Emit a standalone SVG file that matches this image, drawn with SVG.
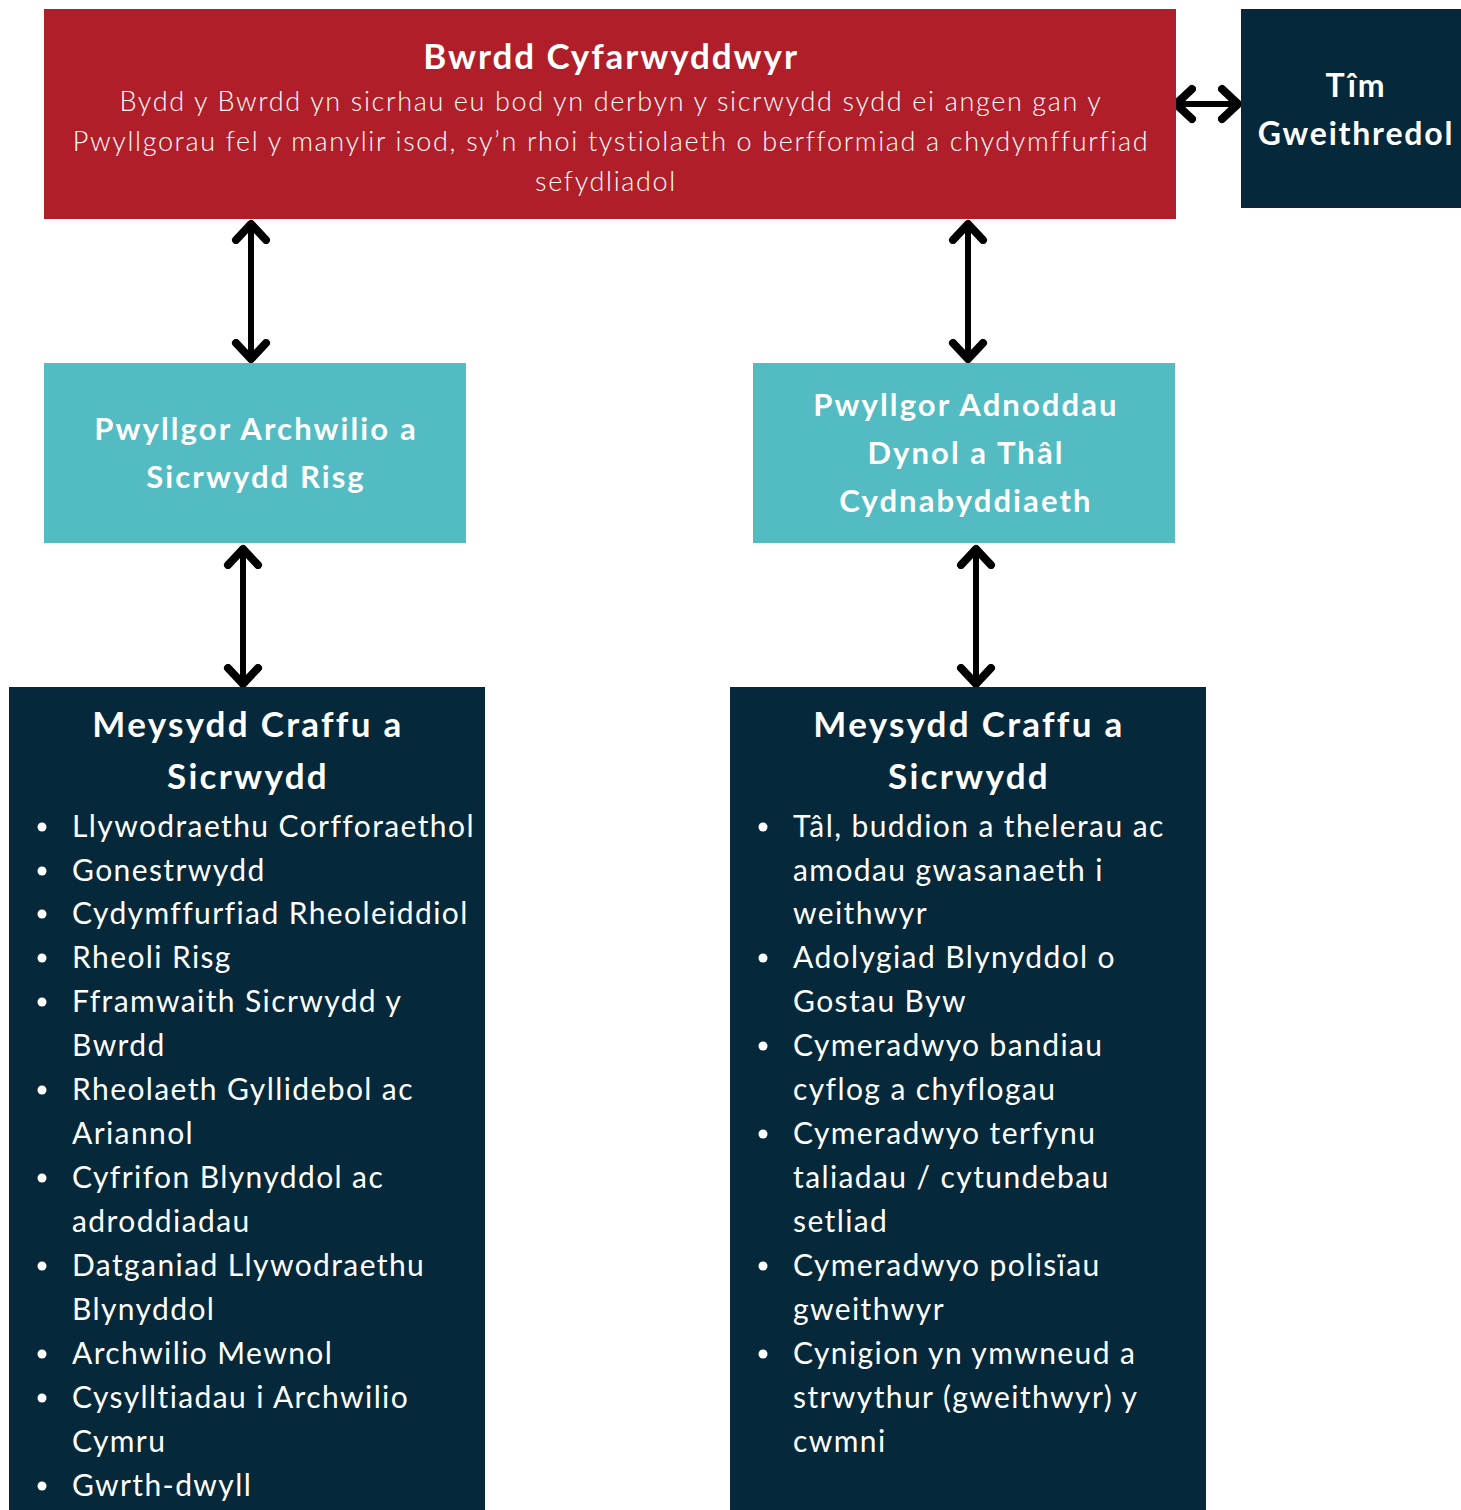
<svg xmlns="http://www.w3.org/2000/svg" width="1461" height="1510" viewBox="0 0 1461 1510">
<style>
.t{font-family:"Lato","Noto Sans",sans-serif;fill:#fff}
.ttl{font-size:35px;font-weight:700;text-anchor:middle;letter-spacing:1.9px}
.ex{font-size:32px;font-weight:700;text-anchor:middle;letter-spacing:1.8px}
.body{font-size:27px;font-weight:300;text-anchor:middle;letter-spacing:1.65px}
.teal{font-size:31px;font-weight:700;text-anchor:middle;letter-spacing:2.1px}
.hd{font-size:35px;font-weight:700;text-anchor:middle;letter-spacing:2.3px}
.li{font-size:30px;letter-spacing:1.4px}
.conn{stroke:#000;stroke-width:6;fill:none;stroke-linecap:round}
</style>
<defs>
<marker id="ah" markerUnits="userSpaceOnUse" markerWidth="40" markerHeight="40" refX="20" refY="20" orient="auto-start-reverse" viewBox="0 0 40 40">
<path d="M4,5 L20,20 L4,35" fill="none" stroke="#000" stroke-width="8" stroke-linecap="round" stroke-linejoin="round"/>
</marker>
</defs>
<rect width="1461" height="1510" fill="#fff"/>
<g id="connectors">
<line class="conn" x1="1176" y1="104" x2="1238" y2="104" marker-start="url(#ah)" marker-end="url(#ah)"/>
<line class="conn" x1="251" y1="224" x2="251" y2="359" marker-start="url(#ah)" marker-end="url(#ah)"/>
<line class="conn" x1="968" y1="224" x2="968" y2="359" marker-start="url(#ah)" marker-end="url(#ah)"/>
<line class="conn" x1="243" y1="549" x2="243" y2="684" marker-start="url(#ah)" marker-end="url(#ah)"/>
<line class="conn" x1="976" y1="549" x2="976" y2="684" marker-start="url(#ah)" marker-end="url(#ah)"/>
</g>
<g id="board">
<rect x="44" y="9" width="1132" height="210" fill="#B01E29"/>
<text class="t ttl" x="611" y="69">Bwrdd Cyfarwyddwyr</text>
<text class="t body" x="611" y="111">Bydd y Bwrdd yn sicrhau eu bod yn derbyn y sicrwydd sydd ei angen gan y</text>
<text class="t body" x="611" y="151">Pwyllgorau fel y manylir isod, sy’n rhoi tystiolaeth o berfformiad a chydymffurfiad</text>
<text class="t body" x="606" y="191">sefydliadol</text>
</g>
<g id="exec">
<rect x="1241" y="9" width="220" height="199" fill="#05293A"/>
<text class="t ex" x="1356" y="97">Tîm</text>
<text class="t ex" x="1356" y="145">Gweithredol</text>
</g>
<g id="audit">
<rect x="44" y="363" width="422" height="180" fill="#52BCC2"/>
<text class="t teal" x="256" y="440">Pwyllgor Archwilio a</text>
<text class="t teal" x="256" y="488">Sicrwydd Risg</text>
</g>
<g id="hr">
<rect x="753" y="363" width="422" height="180" fill="#52BCC2"/>
<text class="t teal" x="966" y="416">Pwyllgor Adnoddau</text>
<text class="t teal" x="966" y="464">Dynol a Thâl</text>
<text class="t teal" x="966" y="512">Cydnabyddiaeth</text>
</g>
<g id="audit-areas">
<rect x="9" y="687" width="476" height="823" fill="#05293A"/>
<text class="t hd" x="248" y="737">Meysydd Craffu a</text>
<text class="t hd" x="248" y="789">Sicrwydd</text>
<g fill="#fff">
<circle cx="42" cy="827" r="4.5"/><circle cx="42" cy="871" r="4.5"/><circle cx="42" cy="914" r="4.5"/><circle cx="42" cy="958" r="4.5"/><circle cx="42" cy="1002" r="4.5"/><circle cx="42" cy="1090" r="4.5"/><circle cx="42" cy="1178" r="4.5"/><circle cx="42" cy="1266" r="4.5"/><circle cx="42" cy="1354" r="4.5"/><circle cx="42" cy="1398" r="4.5"/><circle cx="42" cy="1486" r="4.5"/>
</g>
<text class="t li" x="72" y="837">Llywodraethu Corfforaethol</text>
<text class="t li" x="72" y="881">Gonestrwydd</text>
<text class="t li" x="72" y="924">Cydymffurfiad Rheoleiddiol</text>
<text class="t li" x="72" y="968">Rheoli Risg</text>
<text class="t li" x="72" y="1012">Fframwaith Sicrwydd y</text>
<text class="t li" x="72" y="1056">Bwrdd</text>
<text class="t li" x="72" y="1100">Rheolaeth Gyllidebol ac</text>
<text class="t li" x="72" y="1144">Ariannol</text>
<text class="t li" x="72" y="1188">Cyfrifon Blynyddol ac</text>
<text class="t li" x="72" y="1232">adroddiadau</text>
<text class="t li" x="72" y="1276">Datganiad Llywodraethu</text>
<text class="t li" x="72" y="1320">Blynyddol</text>
<text class="t li" x="72" y="1364">Archwilio Mewnol</text>
<text class="t li" x="72" y="1408">Cysylltiadau i Archwilio</text>
<text class="t li" x="72" y="1452">Cymru</text>
<text class="t li" x="72" y="1496">Gwrth-dwyll</text>
</g>
<g id="hr-areas">
<rect x="730" y="687" width="476" height="823" fill="#05293A"/>
<text class="t hd" x="969" y="737">Meysydd Craffu a</text>
<text class="t hd" x="969" y="789">Sicrwydd</text>
<g fill="#fff">
<circle cx="763" cy="827" r="4.5"/><circle cx="763" cy="958" r="4.5"/><circle cx="763" cy="1046" r="4.5"/><circle cx="763" cy="1134" r="4.5"/><circle cx="763" cy="1266" r="4.5"/><circle cx="763" cy="1354" r="4.5"/>
</g>
<text class="t li" x="793" y="837">Tâl, buddion a thelerau ac</text>
<text class="t li" x="793" y="881">amodau gwasanaeth i</text>
<text class="t li" x="793" y="924">weithwyr</text>
<text class="t li" x="793" y="968">Adolygiad Blynyddol o</text>
<text class="t li" x="793" y="1012">Gostau Byw</text>
<text class="t li" x="793" y="1056">Cymeradwyo bandiau</text>
<text class="t li" x="793" y="1100">cyflog a chyflogau</text>
<text class="t li" x="793" y="1144">Cymeradwyo terfynu</text>
<text class="t li" x="793" y="1188">taliadau / cytundebau</text>
<text class="t li" x="793" y="1232">setliad</text>
<text class="t li" x="793" y="1276">Cymeradwyo polisïau</text>
<text class="t li" x="793" y="1320">gweithwyr</text>
<text class="t li" x="793" y="1364">Cynigion yn ymwneud a</text>
<text class="t li" x="793" y="1408">strwythur (gweithwyr) y</text>
<text class="t li" x="793" y="1452">cwmni</text>
</g>
</svg>
